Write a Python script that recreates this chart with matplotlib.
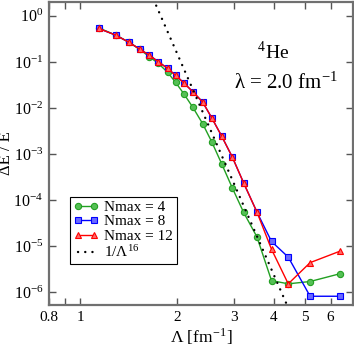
import numpy as np
import matplotlib
matplotlib.use("Agg")
import matplotlib.pyplot as plt
from matplotlib.ticker import FixedLocator, FixedFormatter, NullLocator

plt.rcParams["font.family"] = ["Liberation Serif", "DejaVu Serif"]
plt.rcParams["mathtext.fontset"] = "stix"

# cutoff values (fm^-1)
lam = [1.14, 1.29, 1.42, 1.53, 1.64, 1.75, 1.87, 1.98, 2.10, 2.24,
       2.40, 2.56, 2.75, 2.97, 3.22, 3.54, 3.93, 4.43, 5.18, 6.42]

# log10 of relative error dE/E
log_n4 = [-0.26, -0.42, -0.578, -0.724, -0.891, -1.035, -1.23, -1.448, -1.696, -1.99,
          -2.34, -2.73, -3.21, -3.74, -4.27, -4.80, -5.75, -5.82, -5.77, -5.60]
log_n8 = [-0.274, -0.42, -0.578, -0.724, -0.854, -1.0, -1.143, -1.296, -1.457, -1.652,
          -1.87, -2.21, -2.61, -3.07, -3.63, -4.26, -4.90, -5.24, -6.09, -6.09]
log_n12 = [-0.274, -0.42, -0.578, -0.724, -0.854, -1.0, -1.143, -1.296, -1.457, -1.652,
           -1.87, -2.21, -2.61, -3.07, -3.63, -4.26, -5.07, -5.82, -5.36, -5.11]

# power law reference C / Lambda^16
power_coef = 1.0e4
power_exp = 16

xticks = [0.8, 0.9, 1, 2, 3, 4, 5, 6]
xtick_labels = ["0.8", "", "1", "2", "3", "4", "5", "6"]
ydecades = [-6, -5, -4, -3, -2, -1, 0]

fig = plt.figure(figsize=(3.54, 3.49), dpi=100)
ax = fig.add_axes([49 / 354, 1 - 305 / 349, 304 / 354, 303 / 349])

lam = np.array(lam)
ax.plot(lam, 10 ** np.array(log_n4), "-o", color="#22a022", mfc="#55c055", mec="#22a022",
        ms=4.5, lw=1.0, mew=0.8, label="Nmax = 4")
ax.plot(lam, 10 ** np.array(log_n8), "-s", color="#0000ff", mfc="#6a6aff", mec="#0000ff",
        ms=4.0, lw=1.0, mew=0.8, label="Nmax = 8")
ax.plot(lam, 10 ** np.array(log_n12), "-^", color="#ff0000", mfc="#ff6a6a", mec="#ff0000",
        ms=4.5, lw=1.0, mew=0.8, label="Nmax = 12")

xp = np.linspace(1.6, 5.0, 200)
ax.plot(xp, power_coef / xp ** power_exp, color="black", lw=1.7,
        linestyle=(0, (0.05, 3.0)), dash_capstyle="round",
        label="1/Λ$^{\\mathregular{16}}$")

ax.set_xscale("log")
ax.set_yscale("log")
ax.set_xlim(0.8, 7.04)
ax.set_ylim(10 ** -6.28, 10 ** 0.30)

ax.xaxis.set_major_locator(FixedLocator(xticks))
ax.xaxis.set_major_formatter(FixedFormatter(xtick_labels))
ax.xaxis.set_minor_locator(NullLocator())
ax.yaxis.set_major_locator(FixedLocator([10.0 ** k for k in ydecades]))
ax.yaxis.set_major_formatter(FixedFormatter(
    ["10$^{\\mathregular{%d}}$" % k for k in ydecades]))
ax.yaxis.set_minor_locator(NullLocator())

for s in ax.spines.values():
    s.set_color("#707070")
    s.set_linewidth(1.6)
ax.tick_params(which="both", direction="in", top=True, right=True, length=5,
               width=1.0, color="#555555", labelsize=11, pad=4)
for t in ax.get_yticklabels():
    t.set_fontsize(11.5)

ax.set_xlabel("Λ [fm$^{\\mathregular{-1}}$]", fontsize=12.5, labelpad=2)
ax.set_ylabel("ΔE / E", fontsize=12)
ax.yaxis.set_label_coords(-0.116, 0.5)

ax.text(0.738, 0.812, "$^{\\mathregular{4}}$He", transform=ax.transAxes,
        fontsize=14, ha="center", va="baseline")
ax.text(0.781, 0.713, "λ = 2.0 fm$^{\\mathregular{-1}}$", transform=ax.transAxes,
        fontsize=15, ha="center", va="baseline")

leg = ax.legend(loc="upper left", bbox_to_anchor=(0.069, 0.358), fontsize=11,
                frameon=True, fancybox=False, edgecolor="black", framealpha=1,
                handlelength=1.6, handletextpad=0.4, borderpad=0.25,
                labelspacing=0.05, numpoints=2, borderaxespad=0)
leg.get_frame().set_linewidth(0.8)

fig.savefig("out.png", dpi=100)
